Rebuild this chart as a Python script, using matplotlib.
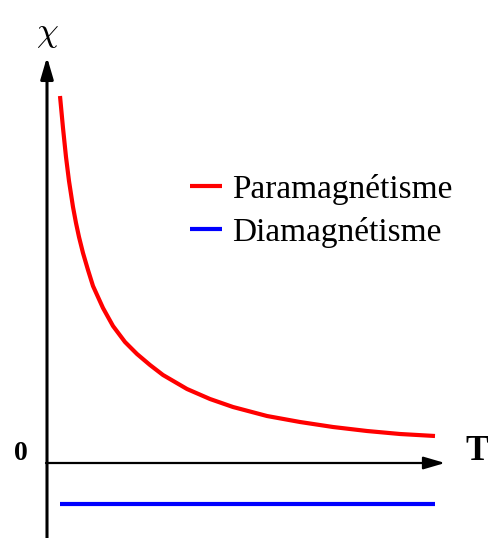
import matplotlib
matplotlib.use("Agg")
import matplotlib.pyplot as plt

plt.rcParams['font.family'] = ['Liberation Serif', 'DejaVu Serif']
plt.rcParams['mathtext.fontset'] = 'cm'

# valeurs (unités arbitraires)
T_para = [13, 16, 19, 22, 26, 29, 32, 36, 41, 46, 56, 66, 78, 90, 103, 116,
          140, 163, 186, 220, 253, 286, 320, 353, 388]
chi_para = [367, 335, 306, 282, 256, 240, 226, 210, 193, 177, 155, 137, 121, 109, 98, 88,
            74, 64, 56, 47, 41, 36, 32, 29, 27]
T_dia = [13, 388]
chi_dia = [-41, -41]
labels = ["Paramagnétisme", "Diamagnétisme"]

fig = plt.figure(figsize=(4.89, 5.38), dpi=100)
ax = fig.add_axes([0, 0, 1, 1])
ax.set_xlim(-47, 442)
ax.set_ylim(-75, 463)
ax.axis('off')

# axes avec flèches
ax.annotate("", xy=(0, 406), xytext=(0, -75),
            arrowprops=dict(arrowstyle="-|>,head_length=1.3,head_width=0.38",
                            lw=2.2, color='black', shrinkA=0, shrinkB=0,
                            mutation_scale=10))
ax.annotate("", xy=(398, 0), xytext=(-1, 0),
            arrowprops=dict(arrowstyle="-|>,head_length=1.3,head_width=0.38",
                            lw=1.6, color='black', shrinkA=0, shrinkB=0,
                            mutation_scale=10))

l1, = ax.plot(T_para, chi_para, color='red', lw=3, solid_capstyle='butt',
              solid_joinstyle='round')
l2, = ax.plot(T_dia, chi_dia, color='blue', lw=3, solid_capstyle='butt')

ax.text(0, 429, r"$\chi$", fontsize=25, ha='center', va='center')
ax.text(430, 11, "T", fontsize=25, fontweight='bold', ha='center', va='center')
ax.text(-26, 9, "0", fontsize=20, fontweight='bold', ha='center', va='center')

ax.legend([l1, l2], labels, loc='center left', bbox_to_anchor=(0.3885, 0.6075),
          frameon=False, fontsize=24, handlelength=0.96, handletextpad=0.3,
          labelspacing=0.36, borderaxespad=0, borderpad=0)

fig.savefig("out.png", dpi=100)
